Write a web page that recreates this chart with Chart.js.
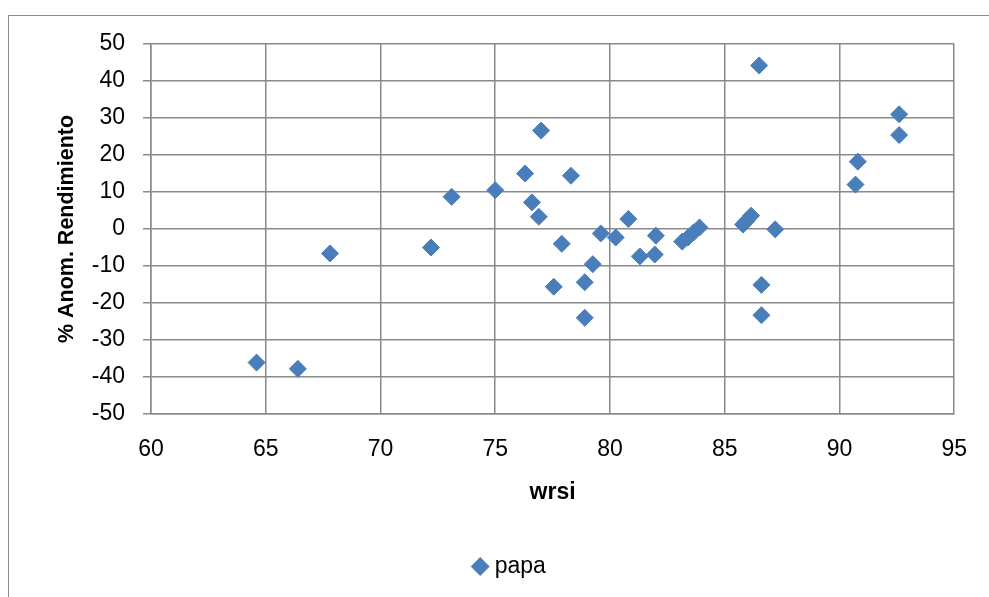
<!DOCTYPE html>
<html>
<head>
<meta charset="utf-8">
<script src="https://cdn.jsdelivr.net/npm/chart.js@4.4.0/dist/chart.umd.min.js"></script>
<style>
  html, body { margin: 0; padding: 0; background: #fff; overflow: hidden; }
  #wrap { position: relative; width: 989px; height: 597px; }
  #frame { position: absolute; left: 8px; top: 15px; width: 2000px; height: 2000px; border: 1.5px solid #8c8c8c; }
  #myChart { position: absolute; left: 0; top: 0; }
</style>
</head>
<body>
<div id="wrap">
  <div id="frame"></div>
  <canvas id="myChart" width="989" height="597"></canvas>
</div>
<script>
// wrsi vs % anomalia de rendimiento (papa)
const wrsi = [64.6, 66.4, 67.8, 72.2, 73.1, 75.0, 76.3, 77.0, 76.6, 76.9, 78.3, 77.9, 77.55,
  78.9, 78.9, 79.25, 79.6, 80.25, 80.8, 81.3, 81.95, 82.0, 83.15, 83.4, 83.65, 83.9,
  85.8, 85.95, 86.15, 86.5, 87.2, 86.6, 86.6, 90.7, 90.8, 92.6, 92.6];
const anom = [-36.1, -37.8, -6.6, -5.0, 8.7, 10.5, 15.0, 26.6, 7.2, 3.3, 14.4, -4.0, -15.6,
  -14.4, -24.0, -9.5, -1.2, -2.3, 2.7, -7.4, -6.9, -1.8, -3.4, -2.3, -0.9, 0.4,
  1.2, 2.2, 3.6, 44.2, -0.1, -15.1, -23.3, 12.0, 18.2, 31.0, 25.4];
const xTicks = [60, 65, 70, 75, 80, 85, 90, 95];
const yTicks = [-50, -40, -30, -20, -10, 0, 10, 20, 30, 40, 50];

Chart.defaults.font.family = '"Liberation Sans", Arial, sans-serif';
Chart.defaults.color = '#000';

const blue = '#4a7ebb';
const gridGray = '#8a8a8a';

const points = wrsi.map((v, i) => ({ x: v, y: anom[i] }));

// moves the legend a bit to the right, like the original
const legendShift = {
  id: 'legendShift',
  beforeDraw(chart) {
    chart.legend.left = 17;
    chart.legend.right = chart.width + 17;
  }
};

new Chart(document.getElementById('myChart'), {
  type: 'scatter',
  data: {
    datasets: [{
      label: 'papa',
      data: points,
      pointStyle: 'rectRot',
      pointRadius: 8.5,
      pointBorderWidth: 1,
      backgroundColor: blue,
      borderColor: blue
    }]
  },
  options: {
    responsive: false,
    animation: false,
    layout: { padding: { top: 44, right: 28, left: 0, bottom: 9 } },
    scales: {
      x: {
        type: 'linear',
        min: 60, max: 95,
        afterBuildTicks: s => { s.ticks = xTicks.map(v => ({ value: v })); },
        afterFit: s => { s.height = 131; },
        grid: { color: gridGray, lineWidth: 1.5, drawTicks: false },
        border: { color: gridGray, width: 1.5 },
        ticks: { font: { size: 23 }, padding: 22, maxRotation: 0 },
        title: {
          display: true, text: 'wrsi',
          font: { size: 23, weight: 'bold' },
          padding: { top: 0, bottom: 39 }
        }
      },
      y: {
        min: -50, max: 50,
        afterBuildTicks: s => { s.ticks = yTicks.map(v => ({ value: v })); },
        afterFit: s => { s.width = 151; },
        grid: { color: gridGray, lineWidth: 1.5, tickLength: 8 },
        border: { color: gridGray, width: 1.5 },
        ticks: { font: { size: 23 }, padding: 18 },
        title: {
          display: true, text: '% Anom. Rendimiento',
          font: { size: 21.5, weight: 'bold' },
          padding: { top: 54, bottom: 0 }
        }
      }
    },
    plugins: {
      legend: {
        position: 'bottom',
        labels: {
          usePointStyle: true,
          boxWidth: 6,
          boxHeight: 12.7,
          font: { size: 23 },
          color: '#000'
        }
      },
      tooltip: { enabled: false }
    }
  },
  plugins: [legendShift]
});
</script>
</body>
</html>
